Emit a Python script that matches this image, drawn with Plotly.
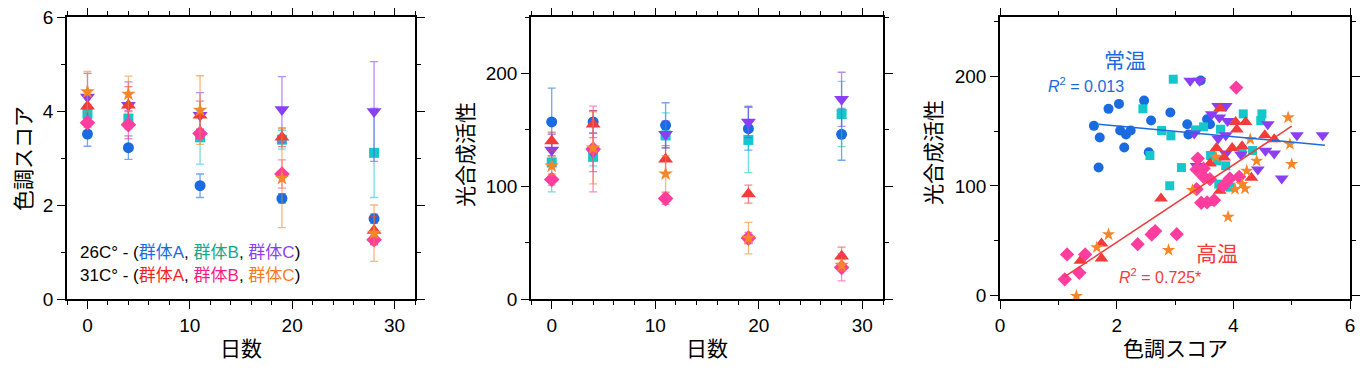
import plotly.graph_objects as go

# ---------------- data ----------------
days = [0, 4, 11, 19, 28]

# panel 1: 色調スコア (mean, error)
tone_A26 = [3.51, 3.22, 2.41, 2.14, 1.71]
tone_A26_err = [0.26, 0.25, 0.25, 0.10, 0.10]
tone_B26 = [3.94, 3.84, 3.44, 3.39, 3.11]
tone_B26_err = [0.20, 0.15, 0.57, 0.20, 0.95]
tone_C26 = [4.30, 4.12, 3.91, 4.03, 3.99]
tone_C26_err = [0.50, 0.50, 0.48, 0.70, 1.06]
tone_A31 = [4.10, 4.12, 3.91, 3.44, 1.46]
tone_A31_err = [0.30, 0.40, 0.30, 0.20, 0.30]
tone_B31 = [3.75, 3.71, 3.52, 2.66, 1.26]
tone_B31_err = [0.10, 0.30, 0.10, 0.30, 0.10]
tone_C31 = [4.41, 4.36, 4.02, 2.57, 1.40]
tone_C31_err = [0.43, 0.38, 0.73, 1.05, 0.60]

# panel 2: 光合成活性 (mean, error)
photo_A26 = [157, 157, 154, 151, 146]
photo_A26_err = [30, 10, 20, 19, 23]
photo_B26 = [121, 126, 145, 141, 164]
photo_B26_err = [26, 8, 20, 29, 29]
photo_C26 = [132, 130, 146, 157, 177]
photo_C26_err = [14, 17, 12, 14, 24]
photo_A31 = [140, 155, 124, 93, 38]
photo_A31_err = [8, 12, 12, 8, 8]
photo_B31 = [106, 133, 89, 54, 28]
photo_B31_err = [5, 38, 5, 5, 12]
photo_C31 = [118, 134, 111, 54, 30]
photo_C31_err = [8, 32, 16, 14, 5]

# panel 3: scatter 色調スコア vs 光合成活性
sc_A26_x = [1.61, 1.71, 1.69, 1.86, 2.04, 2.06, 2.16, 2.24, 2.13, 2.47, 2.59, 2.55, 2.92, 3.21, 3.23, 3.44, 3.55, 3.60]
sc_A26_y = [154.8, 144.2, 116.8, 170.3, 174.8, 150.5, 146.9, 150.5, 135.1, 177.8, 159.6, 130.8, 166.9, 156.3, 146.9, 196.1, 160.8, 156.3]
sc_B26_x = [2.97, 2.45, 2.77, 2.93, 2.57, 3.11, 2.91, 3.35, 3.49, 3.78, 3.61, 3.72, 3.87, 3.75, 3.95, 4.17, 4.15, 4.33, 4.49, 4.47]
sc_B26_y = [197.3, 170.3, 150.5, 145.7, 127.8, 116.8, 100.2, 151.1, 153.9, 151.7, 127.8, 122.9, 118.4, 101.7, 98.9, 165.7, 130.8, 132.3, 165.7, 159.6]
sc_C26_x = [3.26, 3.42, 3.74, 3.87, 3.63, 3.76, 3.90, 3.33, 3.74, 3.87, 3.87, 4.13, 3.37, 4.59, 4.55, 4.70, 4.42, 4.83, 5.09, 5.53]
sc_C26_y = [195.8, 195.8, 173.0, 173.0, 165.4, 162.4, 159.3, 147.8, 143.2, 146.3, 129.6, 128.7, 118.1, 156.3, 132.0, 129.6, 115.0, 106.8, 146.3, 146.3]
sc_A31_x = [3.77, 4.04, 4.21, 4.06, 4.54, 4.70, 3.71, 3.98, 4.15, 3.84, 3.60, 4.31, 3.77, 3.57, 2.76, 1.74, 1.74, 1.38]
sc_A31_y = [170.6, 158.4, 158.4, 151.4, 146.3, 142.6, 134.7, 134.7, 136.3, 125.9, 120.5, 107.4, 95.6, 84.7, 88.6, 47.6, 34.0, 31.9]
sc_B31_x = [4.05, 3.39, 3.37, 3.49, 3.49, 3.60, 3.37, 3.94, 4.10, 3.83, 3.45, 3.55, 3.67, 2.66, 2.60, 3.03, 2.36, 1.46, 1.15, 1.36, 1.11]
sc_B31_y = [189.7, 125.0, 115.0, 115.9, 108.3, 106.2, 97.1, 106.8, 108.3, 100.2, 84.7, 85.0, 87.1, 58.9, 55.8, 56.1, 47.0, 37.6, 37.6, 20.9, 14.9]
sc_C31_x = [4.94, 4.97, 5.00, 4.29, 4.40, 4.23, 4.15, 4.20, 4.03, 3.70, 3.30, 3.91, 2.89, 1.86, 1.66, 1.31]
sc_C31_y = [162.4, 138.1, 119.9, 142.6, 122.9, 113.8, 101.7, 97.7, 97.1, 126.6, 96.2, 71.9, 41.6, 55.8, 44.0, -0.3]

# fitted lines (endpoints)
fit_26_x = [1.69, 5.57]
fit_26_y = [156.3, 137.2]
fit_31_x = [1.11, 5.00]
fit_31_y = [17.3, 154.5]

# ---------------- styles ----------------
BLUE = "#1a6be0"
TEAL = "#12c8cb"
PURPLE = "#8b3ff5"
RED = "#f23b3b"
PINK = "#ff3d9e"
ORANGE = "#f7862a"

def rgba(hexc, a):
    h = hexc.lstrip("#")
    return "rgba(%d,%d,%d,%.2f)" % (int(h[0:2], 16), int(h[2:4], 16), int(h[4:6], 16), a)

series = [
    ("A26", BLUE, "circle"),
    ("B26", TEAL, "square"),
    ("C26", PURPLE, "triangle-down"),
    ("A31", RED, "triangle-up"),
    ("B31", PINK, "diamond"),
    ("C31", ORANGE, "star"),
]
size_adj = {"circle": 0, "square": -1, "triangle-down": 2, "triangle-up": 2, "diamond": 1, "star": 0}

tone = {"A26": (tone_A26, tone_A26_err), "B26": (tone_B26, tone_B26_err), "C26": (tone_C26, tone_C26_err),
        "A31": (tone_A31, tone_A31_err), "B31": (tone_B31, tone_B31_err), "C31": (tone_C31, tone_C31_err)}
photo = {"A26": (photo_A26, photo_A26_err), "B26": (photo_B26, photo_B26_err), "C26": (photo_C26, photo_C26_err),
         "A31": (photo_A31, photo_A31_err), "B31": (photo_B31, photo_B31_err), "C31": (photo_C31, photo_C31_err)}
scat = {"A26": (sc_A26_x, sc_A26_y), "B26": (sc_B26_x, sc_B26_y), "C26": (sc_C26_x, sc_C26_y),
        "A31": (sc_A31_x, sc_A31_y), "B31": (sc_B31_x, sc_B31_y), "C31": (sc_C31_x, sc_C31_y)}

FONT = "Liberation Sans, Arial, Noto Sans CJK JP, sans-serif"
JFONT = "Noto Sans CJK JP, sans-serif"
# page body has an 8px default margin; the figure is sized to fit inside the window
OFF = 8
W, H = 1370 - 2 * OFF, 370 - 2 * OFF

fig = go.Figure()

for key, col, sym in series:
    y, e = tone[key]
    fig.add_trace(go.Scatter(
        x=days, y=y, mode="markers", xaxis="x", yaxis="y",
        marker=dict(symbol=sym, size=11 + size_adj[sym], color=col, line=dict(width=0)),
        error_y=dict(type="data", array=e, visible=True, color=rgba(col, 0.6), thickness=1.3, width=4),
        showlegend=False))
for key, col, sym in series:
    y, e = photo[key]
    fig.add_trace(go.Scatter(
        x=days, y=y, mode="markers", xaxis="x2", yaxis="y2",
        marker=dict(symbol=sym, size=11 + size_adj[sym], color=col, line=dict(width=0)),
        error_y=dict(type="data", array=e, visible=True, color=rgba(col, 0.6), thickness=1.3, width=4),
        showlegend=False))
for key, col, sym in series:
    x, y = scat[key]
    fig.add_trace(go.Scatter(
        x=x, y=y, mode="markers", xaxis="x3", yaxis="y3",
        marker=dict(symbol=sym, size=10 + size_adj[sym], color=col, line=dict(width=0)),
        showlegend=False))
fig.add_trace(go.Scatter(x=fit_26_x, y=fit_26_y, mode="lines", xaxis="x3", yaxis="y3",
                         line=dict(color=BLUE, width=1.5), showlegend=False))
fig.add_trace(go.Scatter(x=fit_31_x, y=fit_31_y, mode="lines", xaxis="x3", yaxis="y3",
                         line=dict(color=RED, width=1.5), showlegend=False))

def px(v):
    return (v - OFF) / W

def py(v):
    return 1 - (v - OFF) / H

ydom = [py(299), py(17)]

def axis(dom, rng, dtick, minor_dtick, anchor):
    return dict(domain=dom, range=rng, anchor=anchor, automargin=False,
                showgrid=False, zeroline=False, showline=True,
                linecolor="black", linewidth=1.5, mirror="ticks", ticks="outside",
                ticklen=8, tickwidth=1.3, tickcolor="black", dtick=dtick, tick0=0,
                ticklabeloverflow="allow",
                tickfont=dict(family=FONT, size=19, color="black"),
                minor=dict(ticks="outside", ticklen=4, tickwidth=1.2, tickcolor="black",
                           dtick=minor_dtick, showgrid=False))

fig.update_layout(
    width=W, height=H, margin=dict(l=0, r=0, t=0, b=0, autoexpand=False),
    paper_bgcolor="white", plot_bgcolor="white",
    font=dict(family=FONT, color="black"),
    xaxis=axis([px(67), px(415)], [-2, 32], 10, 2, "y"),
    yaxis=axis(ydom, [0, 6], 2, 1, "x"),
    xaxis2=axis([px(531), px(883)], [-2, 32], 10, 2, "y2"),
    yaxis2=axis(ydom, [0, 250], 100, 50, "x2"),
    xaxis3=axis([px(1000), px(1350)], [0, 6], 2, 1, "y3"),
    yaxis3=axis(ydom, [-3, 254], 100, 50, "x3"),
)

annots = []
TF = dict(family=JFONT, size=21, color="black")

def ann(x, y, text, font, **kw):
    d = dict(x=px(x), y=py(y), xref="paper", yref="paper", text=text, showarrow=False,
             font=font, xanchor="center", yanchor="middle", borderpad=0)
    d.update(kw)
    annots.append(d)

# axis titles
for xc, txt in [(241, "日数"), (707, "日数"), (1175, "色調スコア")]:
    ann(xc, 347, txt, TF)
for xc, yc, txt in [(22, 159, "色調スコア"), (464, 155, "光合成活性"), (932, 153, "光合成活性")]:
    ann(xc, yc, txt, TF, textangle=-90)

def span(c, t):
    return '<span style="color:%s">%s</span>' % (c, t)

line1 = "26C° - (" + span(BLUE, "群体A") + ", " + span("#14a98a", "群体B") + ", " + span(PURPLE, "群体C") + ")"
line2 = "31C° - (" + span("#f21f1f", "群体A") + ", " + span("#ff1a85", "群体B") + ", " + span("#ff7a1a", "群体C") + ")"
LF = dict(family=FONT, size=17, color="black")
ann(79, 252, line1, LF, xanchor="left")
ann(79, 275, line2, LF, xanchor="left")

# panel 3 labels
ann(1125, 59, "常温", dict(family=JFONT, size=21, color=BLUE))
ann(1086, 85, "<i>R</i><sup>2</sup> = 0.013", dict(family=FONT, size=16, color=BLUE))
ann(1217, 252, "高温", dict(family=JFONT, size=21, color=RED))
ann(1160, 276, "<i>R</i><sup>2</sup> = 0.725*", dict(family=FONT, size=16, color=RED))

fig.update_layout(annotations=annots)

fig.write_html("out.html")
